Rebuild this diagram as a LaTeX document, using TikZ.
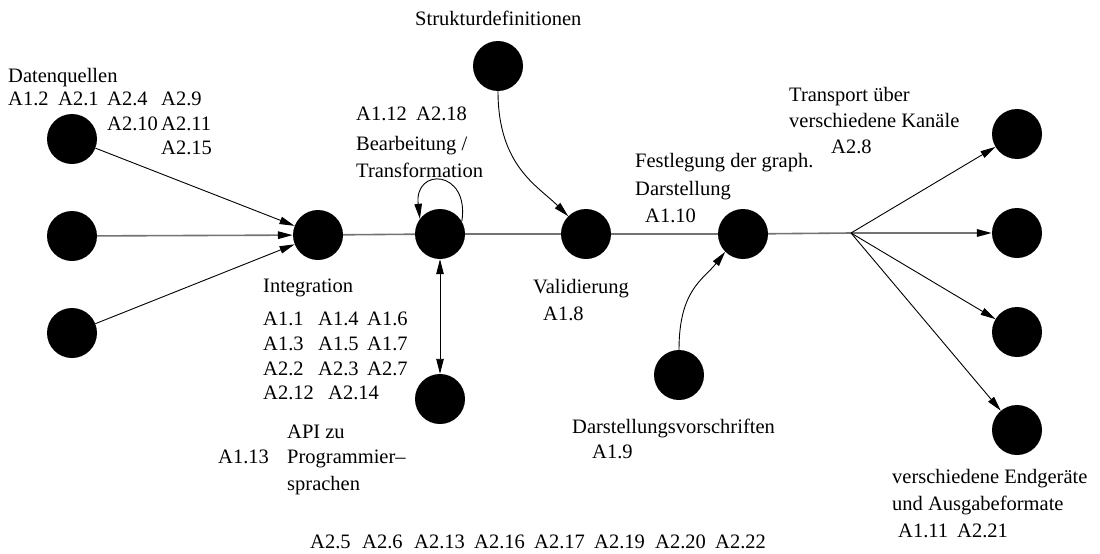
\documentclass[tikz,border=0pt]{standalone}
\usepackage{fontspec}
\setmainfont{Liberation Serif}
\usetikzlibrary{arrows.meta}
\begin{document}
\begin{tikzpicture}[x=1pt,y=-1pt,
  dot/.style={circle,fill=black,draw=none,minimum size=50pt,inner sep=0pt},
  lbl/.style={anchor=base west,inner sep=0pt,font=\fontsize{20.5}{24}\selectfont},
  tip/.style={-{Triangle[length=15pt,width=7.5pt,color=black]}},
  arr/.style={line width=0.9pt,tip},
  arrtwo/.style={line width=0.9pt,{Triangle[length=15pt,width=7.5pt]}-{Triangle[length=15pt,width=7.5pt]}},
  mainline/.style={line width=1.6pt,draw=black!55}]
\useasboundingbox (0,0) rectangle (1100,554);

% nodes
\node[dot] (q1) at (72,139) {};
\node[dot] (q2) at (72,236) {};
\node[dot] (q3) at (72,333) {};
\node[dot] (int) at (318,235) {};
\node[dot] (bea) at (440,234) {};
\node[dot] (api) at (440,399) {};
\node[dot] (sd) at (498,66) {};
\node[dot] (val) at (586,234) {};
\node[dot] (fest) at (743,234) {};
\node[dot] (dv) at (679,375) {};
\node[dot] (r1) at (1017,134) {};
\node[dot] (r2) at (1017,233) {};
\node[dot] (r3) at (1017,332) {};
\node[dot] (r4) at (1017,430) {};
\coordinate (fan) at (851,233);

% main flow
\draw[mainline] (int) -- (bea) -- (val) -- (fest) -- (fan);
\draw[mainline,tip] (q2) -- (int);
\draw[mainline,tip] (fan) -- (r2);

% sources into integration
\draw[arr] (q1) -- (int);
\draw[arr] (q3) -- (int);

% fan-out to targets
\draw[arr] (fan) -- (r1);
\draw[arr] (fan) -- (r3);
\draw[arr] (fan) -- (r4);

% curved inputs
\draw[arr] (sd.270) .. controls +(0,75) and +(-30,-30) .. (val.135);
\draw[arr] (dv.90) .. controls +(0,-60) and +(-22,28) .. (fest.225);

% self loop and API link
\draw[arr] (bea.30) .. controls +(8,-52) and +(-6,-52) .. (bea.143);
\draw[arrtwo] (bea) -- (api);

% labels
\node[lbl] (t1) at (8,82) {Datenquellen};
\node[lbl] (t2) at (8,105) {A1.2};
\node[lbl] (t3) at (58,105) {A2.1};
\node[lbl] (t4) at (107,105) {A2.4};
\node[lbl] (t5) at (161,105) {A2.9};
\node[lbl] (t6) at (107,130) {A2.10};
\node[lbl] (t7) at (161,130) {A2.11};
\node[lbl] (t8) at (161,154) {A2.15};

\node[lbl] (b1) at (356,120) {A1.12};
\node[lbl] (b2) at (416,120) {A2.18};
\node[lbl] (b3) at (356,150) {Bearbeitung /};
\node[lbl] (b4) at (356,177) {Transformation};

\node[lbl] (s1) at (415,25) {Strukturdefinitionen};

\node[lbl] (i0) at (263,292) {Integration};
\node[lbl] (i1) at (263,325) {A1.1};
\node[lbl] (i2) at (318,325) {A1.4};
\node[lbl] (i3) at (367,325) {A1.6};
\node[lbl] (i4) at (263,350) {A1.3};
\node[lbl] (i5) at (318,350) {A1.5};
\node[lbl] (i6) at (367,350) {A1.7};
\node[lbl] (i7) at (263,375) {A2.2};
\node[lbl] (i8) at (318,375) {A2.3};
\node[lbl] (i9) at (367,375) {A2.7};
\node[lbl] (i10) at (263,399) {A2.12};
\node[lbl] (i11) at (328,399) {A2.14};

\node[lbl] (a1) at (287,438) {API zu};
\node[lbl] (a2) at (287,463) {Programmier–};
\node[lbl] (a3) at (287,490) {sprachen};
\node[lbl] (a4) at (218,463) {A1.13};

\node[lbl] (v1) at (533,293) {Validierung};
\node[lbl] (v2) at (543,320) {A1.8};

\node[lbl] (f1) at (635,167) {Festlegung der graph.};
\node[lbl] (f2) at (635,195) {Darstellung};
\node[lbl] (f3) at (645,222) {A1.10};

\node[lbl] (d1) at (572,433) {Darstellungsvorschriften};
\node[lbl] (d2) at (592,458) {A1.9};

\node[lbl] (k1) at (789,101) {Transport über};
\node[lbl] (k2) at (789,127) {verschiedene Kanäle};
\node[lbl] (k3) at (831,153) {A2.8};

\node[lbl] (e1) at (892,483) {verschiedene Endgeräte};
\node[lbl] (e2) at (892,510) {und Ausgabeformate};
\node[lbl] (e3) at (898,537) {A1.11};
\node[lbl] (e4) at (957,537) {A2.21};

% further requirements
\node[lbl] (z1) at (310,548) {A2.5};
\node[lbl] (z2) at (362,548) {A2.6};
\node[lbl] (z3) at (414,548) {A2.13};
\node[lbl] (z4) at (474,548) {A2.16};
\node[lbl] (z5) at (534,548) {A2.17};
\node[lbl] (z6) at (594,548) {A2.19};
\node[lbl] (z7) at (655,548) {A2.20};
\node[lbl] (z8) at (715,548) {A2.22};
\end{tikzpicture}
\end{document}
